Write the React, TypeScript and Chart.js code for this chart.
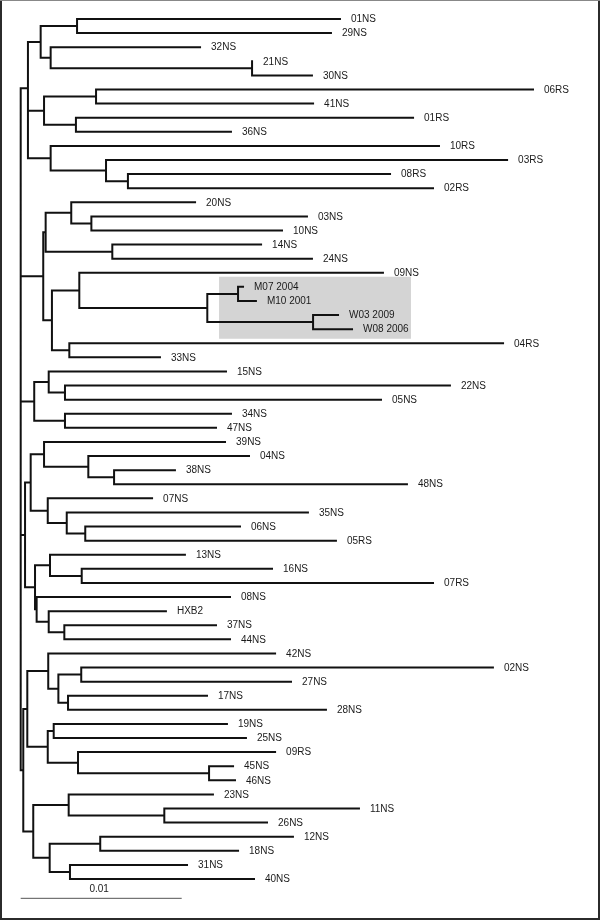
import React, { useEffect, useRef } from "react";
import { Chart, registerables } from "chart.js";

Chart.register(...registerables);

// Leaves (top to bottom)
const leafNames = [
  "01NS", "29NS", "32NS", "21NS", "30NS", "06RS", "41NS", "01RS", "36NS", "10RS",
  "03RS", "08RS", "02RS", "20NS", "03NS", "10NS", "14NS", "24NS", "09NS", "M07 2004",
  "M10 2001", "W03 2009", "W08 2006", "04RS", "33NS", "15NS", "22NS", "05NS", "34NS", "47NS",
  "39NS", "04NS", "38NS", "48NS", "07NS", "35NS", "06NS", "05RS", "13NS", "16NS",
  "07RS", "08NS", "HXB2", "37NS", "44NS", "42NS", "02NS", "27NS", "17NS", "28NS",
  "19NS", "25NS", "09RS", "45NS", "46NS", "23NS", "11NS", "26NS", "12NS", "18NS",
  "31NS", "40NS",
];

// Distance from root (substitutions per site) of each leaf
const leafDepth = [
  0.01983, 0.01927, 0.01114, 0.01437, 0.01809, 0.03182, 0.01816, 0.02437, 0.01306, 0.02598,
  0.03021, 0.02294, 0.02561, 0.01083, 0.01778, 0.01623, 0.01493, 0.01809, 0.0225, 0.01381,
  0.01461, 0.01971, 0.02058, 0.02996, 0.00865, 0.01275, 0.02666, 0.02238, 0.01306, 0.01213,
  0.01269, 0.01418, 0.00958, 0.02399, 0.00816, 0.01784, 0.01362, 0.01958, 0.0102, 0.01561,
  0.02561, 0.013, 0.00902, 0.01213, 0.013, 0.0158, 0.02933, 0.01679, 0.01157, 0.01896,
  0.01281, 0.01399, 0.0158, 0.01319, 0.01331, 0.01194, 0.02101, 0.0153, 0.01691, 0.0135,
  0.01033, 0.01449,
];

// Internal node each leaf hangs from
const leafParent = [
  3, 3, 4, 5, 5, 7, 7, 8, 8, 9,
  10, 11, 11, 14, 15, 15, 16, 16, 18, 20,
  20, 21, 21, 22, 22, 24, 25, 25, 26, 26,
  29, 30, 31, 31, 32, 33, 34, 34, 36, 37,
  37, 38, 39, 40, 40, 43, 45, 45, 46, 46,
  48, 48, 49, 50, 50, 52, 53, 53, 55, 55,
  56, 56,
];

// Internal nodes: parent index (-1 = root) and distance from root
const nodeParent = [
  -1, 0, 1, 2, 2, 4, 57, 6, 6, 57,
  9, 10, 0, 12, 13, 14, 13, 12, 17, 18,
  19, 19, 17, 0, 23, 24, 23, 0, 27, 28,
  29, 30, 28, 32, 33, 27, 35, 36, 35, 38,
  39, 0, 41, 42, 43, 44, 44, 42, 47, 47,
  49, 41, 51, 52, 51, 54, 54, 1,
];
const nodeDepth = [
  0, 0.00045, 0.00124, 0.0035, 0.00186, 0.01437, 0.00145, 0.00468, 0.00343, 0.00186,
  0.0053, 0.00666, 0.0014, 0.00155, 0.00314, 0.00439, 0.00569, 0.00194, 0.00364, 0.01159,
  0.0135, 0.01816, 0.00302, 0.00084, 0.00174, 0.00275, 0.00275, 0.00027, 0.00062, 0.00145,
  0.0042, 0.0058, 0.00168, 0.00286, 0.00401, 0.00089, 0.00182, 0.00379, 0.00099, 0.00174,
  0.00271, 0.00016, 0.00041, 0.00171, 0.00234, 0.00376, 0.00294, 0.00168, 0.00205, 0.00356,
  0.0117, 0.00078, 0.00298, 0.00892, 0.0018, 0.00494, 0.00306, 0.00045,
];

// Scale bar and highlighted clade box (x: distance, y: leaf rows)
const scaleBarLength = 0.01;
const scaleBarLabel = "0.01";
const scaleBarRow = 62.37;
const scaleLabelRow = 61.73;
const highlightX = [0.01232, 0.02424];
const highlightY = [18.28, 22.68];

const FONT = '10px "Liberation Sans", Arial, sans-serif';

function buildTree() {
  const n = nodeParent.length;
  const kidsY: number[][] = Array.from({ length: n }, () => []);
  const childNodes: number[][] = Array.from({ length: n }, () => []);
  leafParent.forEach((p, i) => kidsY[p].push(i));
  nodeParent.forEach((p, i) => {
    if (p >= 0) childNodes[p].push(i);
  });
  const yMemo: (number | undefined)[] = new Array(n);
  const range: [number, number][] = new Array(n);
  const nodeY = (k: number): number => {
    if (yMemo[k] !== undefined) return yMemo[k] as number;
    const ys = kidsY[k].concat(childNodes[k].map(nodeY));
    const lo = Math.min(...ys);
    const hi = Math.max(...ys);
    range[k] = [lo, hi];
    yMemo[k] = (lo + hi) / 2;
    return yMemo[k] as number;
  };
  for (let k = 0; k < n; k++) nodeY(k);

  const pts: { x: number | null; y: number | null }[] = [];
  const seg = (x1: number, y1: number, x2: number, y2: number) => {
    pts.push({ x: x1, y: y1 }, { x: x2, y: y2 }, { x: null, y: null });
  };
  leafParent.forEach((p, i) => seg(nodeDepth[p], i, leafDepth[i], i));
  for (let k = 0; k < n; k++) {
    const p = nodeParent[k];
    if (p >= 0) seg(nodeDepth[p], yMemo[k] as number, nodeDepth[k], yMemo[k] as number);
    seg(nodeDepth[k], range[k][0], nodeDepth[k], range[k][1]);
  }
  return pts;
}

const decorPlugin = {
  id: "treeDecor",
  beforeDatasetsDraw(chart: any) {
    const { ctx, scales } = chart;
    const xs = scales.x;
    const ys = scales.y;
    ctx.save();
    ctx.fillStyle = "#d4d4d4";
    const x1 = xs.getPixelForValue(highlightX[0]);
    const x2 = xs.getPixelForValue(highlightX[1]);
    const y1 = ys.getPixelForValue(highlightY[0]);
    const y2 = ys.getPixelForValue(highlightY[1]);
    ctx.fillRect(x1, y1, x2 - x1, y2 - y1);
    ctx.restore();
  },
  afterDatasetsDraw(chart: any) {
    const { ctx, scales } = chart;
    const xs = scales.x;
    const ys = scales.y;
    ctx.save();
    ctx.font = FONT;
    ctx.fillStyle = "#1a1a1a";
    ctx.textBaseline = "middle";
    ctx.textAlign = "left";
    leafNames.forEach((name, i) => {
      ctx.fillText(name, xs.getPixelForValue(leafDepth[i]) + 11, ys.getPixelForValue(i) + 0.5);
    });
    // scale bar label
    ctx.textAlign = "center";
    ctx.fillText(
      scaleBarLabel,
      (xs.getPixelForValue(0) + xs.getPixelForValue(scaleBarLength)) / 2 - 2,
      ys.getPixelForValue(scaleLabelRow)
    );
    ctx.restore();
  },
  afterDraw(chart: any) {
    const { ctx, width, height } = chart;
    ctx.save();
    ctx.strokeStyle = "#2b2b2b";
    ctx.lineWidth = 2;
    ctx.beginPath();
    ctx.moveTo(1, 0);
    ctx.lineTo(1, height - 1);
    ctx.lineTo(width - 1, height - 1);
    ctx.lineTo(width - 1, 0);
    ctx.stroke();
    ctx.strokeStyle = "#888";
    ctx.lineWidth = 1;
    ctx.beginPath();
    ctx.moveTo(0, 0.5);
    ctx.lineTo(width, 0.5);
    ctx.stroke();
    ctx.restore();
  },
};

export default function App() {
  const ref = useRef<HTMLCanvasElement | null>(null);
  useEffect(() => {
    if (!ref.current) return;
    const treePoints = buildTree();
    const chart = new Chart(ref.current, {
      type: "scatter",
      data: {
        datasets: [
          {
            label: "tree",
            data: treePoints as any,
            showLine: true,
            spanGaps: false,
            borderColor: "#111111",
            borderWidth: 2,
            borderCapStyle: "square",
            borderJoinStyle: "miter",
            pointRadius: 0,
            pointHoverRadius: 0,
            fill: false,
          },
          {
            label: "scale",
            data: [
              { x: 0, y: scaleBarRow },
              { x: scaleBarLength, y: scaleBarRow },
            ],
            showLine: true,
            borderColor: "#555555",
            borderWidth: 1,
            pointRadius: 0,
            pointHoverRadius: 0,
            fill: false,
          },
        ],
      },
      options: {
        animation: false,
        responsive: false,
        layout: { padding: 0 },
        events: [],
        scales: {
          x: { type: "linear", display: false, min: -0.0012857, max: 0.0359814 },
          y: { type: "linear", display: false, reverse: true, min: -1.348, max: 63.908 },
        },
        plugins: {
          legend: { display: false },
          tooltip: { enabled: false },
          title: { display: false },
        },
      } as any,
      plugins: [decorPlugin],
    });
    return () => chart.destroy();
  }, []);
  return (
    <div style={{ position: "absolute", left: 0, top: 0, width: 600, height: 920, background: "#fff" }}>
      <canvas ref={ref} width={600} height={920} style={{ display: "block" }} />
    </div>
  );
}
